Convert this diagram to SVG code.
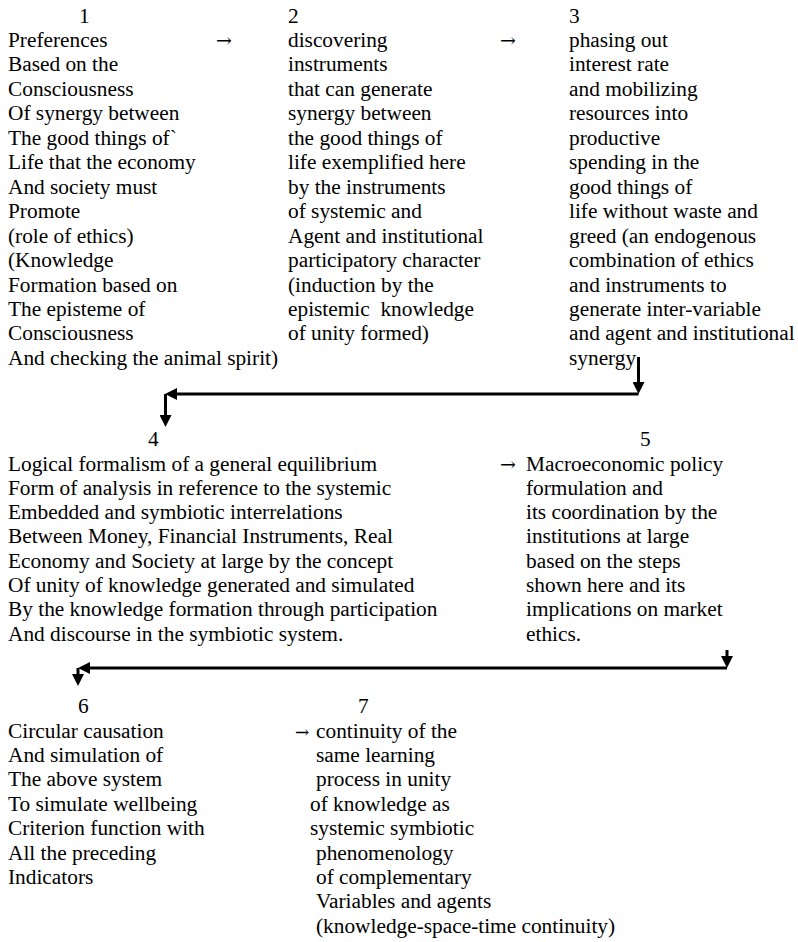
<svg xmlns="http://www.w3.org/2000/svg" width="798" height="942" viewBox="0 0 798 942">
  <style>
    text { font-family: "Liberation Serif", "Times New Roman", serif; font-size: 21.33px; fill: #000; white-space: pre; }
    text.arw { font-family: "DejaVu Serif", "Liberation Serif", serif; font-size: 19px; }
    .wire { fill: none; stroke: #000; stroke-width: 3; }
  </style>
  <defs>
    <marker id="head" viewBox="0 0 12 12" refX="8" refY="6" markerWidth="12" markerHeight="12" markerUnits="userSpaceOnUse" orient="auto">
      <path d="M0,0 L12,6 L0,12 z" fill="#000"/>
    </marker>
  </defs>
  <rect width="798" height="942" fill="#fff"/>

  <!-- step 1 -->
  <g id="node-1">
    <text x="79" y="22.5">1</text>
    <text>
      <tspan x="8" y="47">Preferences</tspan>
      <tspan x="8" y="71.45">Based on the</tspan>
      <tspan x="8" y="95.9">Consciousness</tspan>
      <tspan x="8" y="120.35">Of synergy between</tspan>
      <tspan x="8" y="144.8">The good things of`</tspan>
      <tspan x="8" y="169.25">Life that the economy</tspan>
      <tspan x="8" y="193.7">And society must</tspan>
      <tspan x="8" y="218.15">Promote</tspan>
      <tspan x="8" y="242.6">(role of ethics)</tspan>
      <tspan x="8" y="267.05">(Knowledge</tspan>
      <tspan x="8" y="291.5">Formation based on</tspan>
      <tspan x="8" y="315.95">The episteme of</tspan>
      <tspan x="8" y="340.4">Consciousness</tspan>
      <tspan x="8" y="364.85">And checking the animal spirit)</tspan>
    </text>
  </g>

  <!-- step 2 -->
  <g id="node-2">
    <text x="288" y="22.5">2</text>
    <text>
      <tspan x="288" y="47">discovering</tspan>
      <tspan x="288" y="71.45">instruments</tspan>
      <tspan x="288" y="95.9">that can generate</tspan>
      <tspan x="288" y="120.35">synergy between</tspan>
      <tspan x="288" y="144.8">the good things of</tspan>
      <tspan x="288" y="169.25">life exemplified here</tspan>
      <tspan x="288" y="193.7">by the instruments</tspan>
      <tspan x="288" y="218.15">of systemic and</tspan>
      <tspan x="288" y="242.6">Agent and institutional</tspan>
      <tspan x="288" y="267.05">participatory character</tspan>
      <tspan x="288" y="291.5">(induction by the</tspan>
      <tspan x="288" y="315.95">epistemic  knowledge</tspan>
      <tspan x="288" y="340.4">of unity formed)</tspan>
    </text>
  </g>

  <!-- step 3 -->
  <g id="node-3">
    <text x="569" y="22.5">3</text>
    <text>
      <tspan x="569" y="47">phasing out</tspan>
      <tspan x="569" y="71.45">interest rate</tspan>
      <tspan x="569" y="95.9">and mobilizing</tspan>
      <tspan x="569" y="120.35">resources into</tspan>
      <tspan x="569" y="144.8">productive</tspan>
      <tspan x="569" y="169.25">spending in the</tspan>
      <tspan x="569" y="193.7">good things of</tspan>
      <tspan x="569" y="218.15">life without waste and</tspan>
      <tspan x="569" y="242.6">greed (an endogenous</tspan>
      <tspan x="569" y="267.05">combination of ethics</tspan>
      <tspan x="569" y="291.5">and instruments to</tspan>
      <tspan x="569" y="315.95">generate inter-variable</tspan>
      <tspan x="569" y="340.4">and agent and institutional</tspan>
      <tspan x="569" y="364.85">synergy</tspan>
    </text>
  </g>

  <!-- step 4 -->
  <g id="node-4">
    <text x="148" y="446">4</text>
    <text>
      <tspan x="8" y="470.5">Logical formalism of a general equilibrium</tspan>
      <tspan x="8" y="494.8">Form of analysis in reference to the systemic</tspan>
      <tspan x="8" y="519.1">Embedded and symbiotic interrelations</tspan>
      <tspan x="8" y="543.4">Between Money, Financial Instruments, Real</tspan>
      <tspan x="8" y="567.7">Economy and Society at large by the concept</tspan>
      <tspan x="8" y="592">Of unity of knowledge generated and simulated</tspan>
      <tspan x="8" y="616.3">By the knowledge formation through participation</tspan>
      <tspan x="8" y="640.6">And discourse in the symbiotic system.</tspan>
    </text>
  </g>

  <!-- step 5 -->
  <g id="node-5">
    <text x="640" y="446">5</text>
    <text>
      <tspan x="526" y="470.5">Macroeconomic policy</tspan>
      <tspan x="526" y="494.8">formulation and</tspan>
      <tspan x="526" y="519.1">its coordination by the</tspan>
      <tspan x="526" y="543.4">institutions at large</tspan>
      <tspan x="526" y="567.7">based on the steps</tspan>
      <tspan x="526" y="592">shown here and its</tspan>
      <tspan x="526" y="616.3">implications on market</tspan>
      <tspan x="526" y="640.6">ethics.</tspan>
    </text>
  </g>

  <!-- step 6 -->
  <g id="node-6">
    <text x="78" y="713">6</text>
    <text>
      <tspan x="8" y="737.5">Circular causation</tspan>
      <tspan x="8" y="761.9">And simulation of</tspan>
      <tspan x="8" y="786.3">The above system</tspan>
      <tspan x="8" y="810.7">To simulate wellbeing</tspan>
      <tspan x="8" y="835.1">Criterion function with</tspan>
      <tspan x="8" y="859.5">All the preceding</tspan>
      <tspan x="8" y="883.9">Indicators</tspan>
    </text>
  </g>

  <!-- step 7 -->
  <g id="node-7">
    <text x="358" y="713">7</text>
    <text>
      <tspan x="316" y="737.5">continuity of the</tspan>
      <tspan x="316" y="761.9">same learning</tspan>
      <tspan x="316" y="786.3">process in unity</tspan>
      <tspan x="310" y="810.7">of knowledge as</tspan>
      <tspan x="310" y="835.1">systemic symbiotic</tspan>
      <tspan x="316" y="859.5">phenomenology</tspan>
      <tspan x="316" y="883.9">of complementary</tspan>
      <tspan x="316" y="908.3">Variables and agents</tspan>
      <tspan x="316" y="932.7">(knowledge-space-time continuity)</tspan>
    </text>
  </g>

  <!-- connectors: inline arrows and the two return wires -->
  <g id="connectors">
    <text class="arw" x="216" y="47">→</text>
    <text class="arw" x="500" y="47">→</text>
    <text class="arw" x="500" y="470.5">→</text>
    <text class="arw" x="295" y="737.5" style="font-size:17px">→</text>

    <path class="wire" d="M638.5,357 V390" marker-end="url(#head)"/>
    <path class="wire" d="M638.5,394 H169" marker-end="url(#head)"/>
    <path class="wire" d="M165.5,394 V423" marker-end="url(#head)"/>

    <path class="wire" d="M727,650 V664" marker-end="url(#head)"/>
    <path class="wire" d="M727,668 H82" marker-end="url(#head)"/>
    <path class="wire" d="M78,668 V682" marker-end="url(#head)"/>
  </g>
</svg>
